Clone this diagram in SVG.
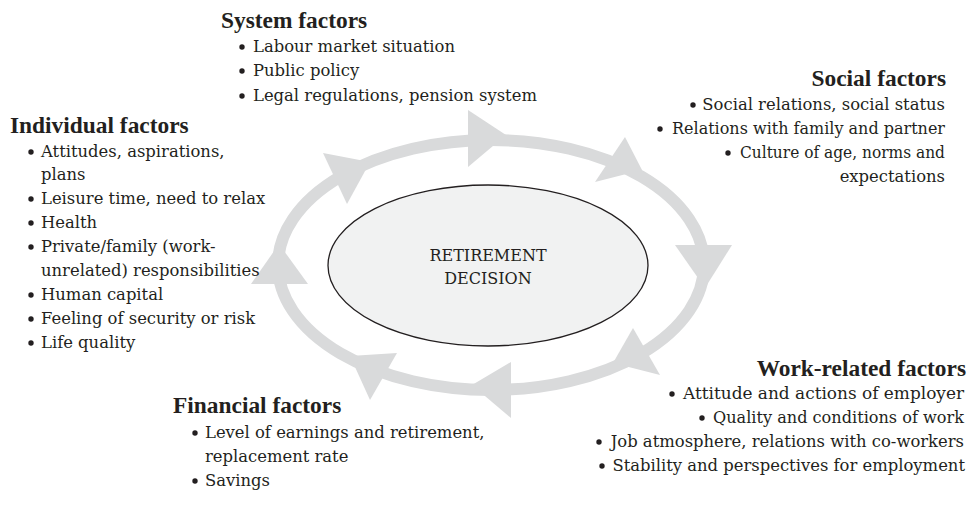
<svg xmlns="http://www.w3.org/2000/svg" width="973" height="513" viewBox="0 0 973 513">
<style>
text{font-family:"DejaVu Serif","Liberation Serif",serif;fill:#231f20;font-size:16.4px}
.h{font-family:"Liberation Serif","DejaVu Serif",serif;font-weight:bold;font-size:23.4px}
.r{text-anchor:end}
.c{text-anchor:middle;font-size:16px}
.b{fill:#231f20}
.ring{fill:none;stroke:#d9dadb;stroke-width:12}
.ah{fill:#d9dadb}
</style>
<g id="connectors">
<ellipse class="ring" cx="491" cy="265" rx="213" ry="125"/>
<polygon class="ah" points="323,153 347,204 370,162"/>
<polygon class="ah" points="468,110 468,167 506,135"/>
<polygon class="ah" points="625,137 595,182 642,170"/>
<polygon class="ah" points="675,245 732,245 705,288"/>
<polygon class="ah" points="633,328 660,375 613,363"/>
<polygon class="ah" points="511,362 511,418 472,385"/>
<polygon class="ah" points="397,353 370,400 350,356"/>
<polygon class="ah" points="251,284 308,284 279,244"/>
</g>
<g id="decision">
<ellipse cx="488" cy="265.5" rx="160" ry="80.5" fill="#f1f2f2" stroke="#231f20" stroke-width="1.3"/>
<text class="c" x="488" y="261">RETIREMENT</text>
<text class="c" x="488" y="284">DECISION</text>
</g>
<g id="system">
<text class="h" x="221" y="28">System factors</text>
<circle class="b" cx="242" cy="47" r="2.7"/><text x="253" y="52">Labour market situation</text>
<circle class="b" cx="242" cy="71" r="2.7"/><text x="253" y="76">Public policy</text>
<circle class="b" cx="242" cy="96" r="2.7"/><text x="253" y="101">Legal regulations, pension system</text>
</g>
<g id="social">
<text class="h r" x="946" y="86">Social factors</text>
<circle class="b" cx="693" cy="105" r="2.7"/><text class="r" x="945" y="110">Social relations, social status</text>
<circle class="b" cx="660" cy="129" r="2.7"/><text class="r" x="945" y="134" textLength="273" lengthAdjust="spacingAndGlyphs">Relations with family and partner</text>
<circle class="b" cx="728" cy="153" r="2.7"/><text class="r" x="945" y="158" textLength="205" lengthAdjust="spacingAndGlyphs">Culture of age, norms and</text>
<text class="r" x="945" y="182">expectations</text>
</g>
<g id="individual">
<text class="h" x="10" y="133">Individual factors</text>
<circle class="b" cx="31" cy="152" r="2.7"/><text x="41" y="157">Attitudes, aspirations,</text>
<text x="41" y="180">plans</text>
<circle class="b" cx="31" cy="199" r="2.7"/><text x="41" y="204">Leisure time, need to relax</text>
<circle class="b" cx="31" cy="223" r="2.7"/><text x="41" y="228">Health</text>
<circle class="b" cx="31" cy="247" r="2.7"/><text x="41" y="252">Private/family (work-</text>
<text x="41" y="276">unrelated) responsibilities</text>
<circle class="b" cx="31" cy="295" r="2.7"/><text x="41" y="300">Human capital</text>
<circle class="b" cx="31" cy="319" r="2.7"/><text x="41" y="324">Feeling of security or risk</text>
<circle class="b" cx="31" cy="343" r="2.7"/><text x="41" y="348">Life quality</text>
</g>
<g id="work">
<text class="h r" x="966" y="376">Work-related factors</text>
<circle class="b" cx="672" cy="394" r="2.7"/><text class="r" x="964" y="399" textLength="281" lengthAdjust="spacingAndGlyphs">Attitude and actions of employer</text>
<circle class="b" cx="702" cy="418" r="2.7"/><text class="r" x="964" y="423" textLength="251" lengthAdjust="spacingAndGlyphs">Quality and conditions of work</text>
<circle class="b" cx="599" cy="442" r="2.7"/><text class="r" x="964" y="447">Job atmosphere, relations with co-workers</text>
<circle class="b" cx="602" cy="466" r="2.7"/><text class="r" x="965" y="471">Stability and perspectives for employment</text>
</g>
<g id="financial">
<text class="h" x="173" y="413">Financial factors</text>
<circle class="b" cx="195" cy="433" r="2.7"/><text x="205" y="438">Level of earnings and retirement,</text>
<text x="205" y="462">replacement rate</text>
<circle class="b" cx="195" cy="481" r="2.7"/><text x="205" y="486">Savings</text>
</g>
</svg>
